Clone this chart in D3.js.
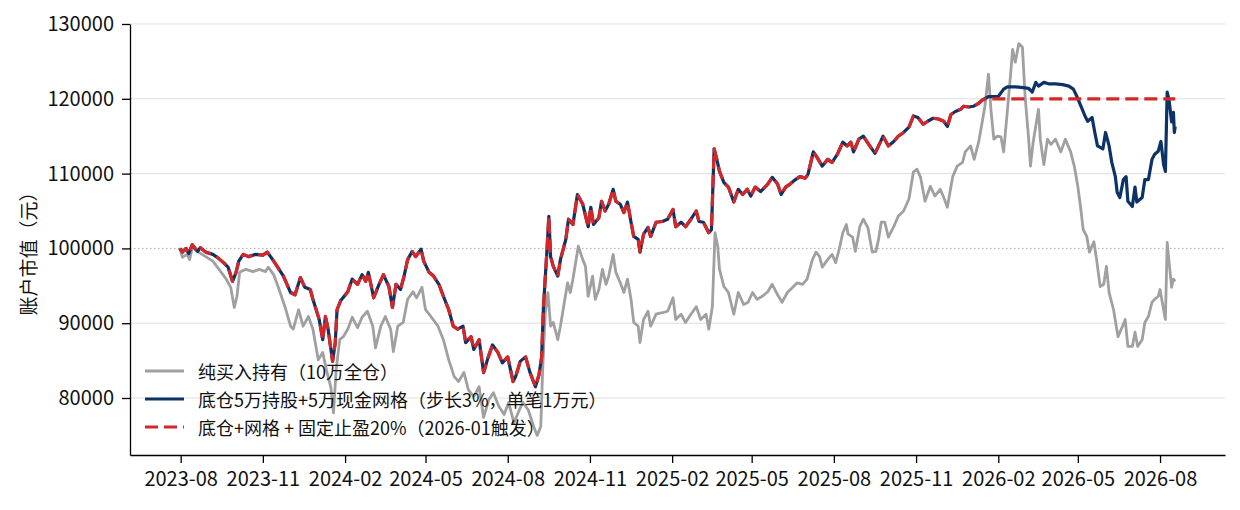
<!DOCTYPE html>
<html>
<head>
<meta charset="utf-8">
<script src="https://cdn.jsdelivr.net/npm/d3@7"></script>
<style>
body{margin:0;background:#fff}
svg text{font-family:"Noto Sans CJK SC","Noto Sans",sans-serif;fill:#111}
</style>
</head>
<body>
<svg id="chart" width="1240" height="510"></svg>
<script>
// 纯买入持有（10万全仓）
var holdSeries = [
["2023-07-31",100000],["2023-08-03",98800],["2023-08-08",99200],["2023-08-11",98500],["2023-08-14",100100],
["2023-08-21",99500],["2023-08-29",98900],["2023-09-06",98300],["2023-09-13",97200],["2023-09-21",95900],
["2023-09-26",94800],["2023-09-30",92100],["2023-10-03",93600],["2023-10-06",96800],["2023-10-13",97200],
["2023-10-21",96900],["2023-10-28",97200],["2023-11-04",96900],["2023-11-07",97500],["2023-11-13",96500],
["2023-11-18",94900],["2023-11-26",92100],["2023-12-02",89600],["2023-12-05",89200],["2023-12-11",91800],
["2023-12-16",89600],["2023-12-22",90900],["2023-12-27",89200],["2024-01-02",85100],["2024-01-07",86100],
["2024-01-11",83800],["2024-01-16",81500],["2024-01-19",78000],["2024-01-22",83800],["2024-01-26",87800],
["2024-01-30",88200],["2024-02-04",89200],["2024-02-09",90800],["2024-02-15",89400],["2024-02-20",90800],
["2024-02-26",91600],["2024-03-03",89600],["2024-03-06",86700],["2024-03-12",89600],["2024-03-17",90900],
["2024-03-23",89200],["2024-03-26",86200],["2024-03-31",89600],["2024-04-06",90100],["2024-04-11",93200],
["2024-04-17",94200],["2024-04-21",93400],["2024-04-27",94800],["2024-05-01",91800],["2024-05-07",90900],
["2024-05-15",89600],["2024-05-21",87800],["2024-05-27",85100],["2024-06-02",82900],["2024-06-07",82200],
["2024-06-13",83400],["2024-06-18",81100],["2024-06-24",80200],["2024-06-30",81500],["2024-07-05",77400],
["2024-07-11",79800],["2024-07-16",80700],["2024-07-22",78900],["2024-07-28",77800],["2024-08-02",79400],
["2024-08-08",76700],["2024-08-14",78400],["2024-08-18",79400],["2024-08-24",78400],["2024-08-30",76200],
["2024-09-03",75000],["2024-09-07",76200],["2024-09-09",83400],["2024-09-12",91400],["2024-09-15",94100],
["2024-09-18",89600],["2024-09-21",90100],["2024-09-26",87800],["2024-09-29",89600],["2024-10-02",91800],
["2024-10-07",95400],["2024-10-10",94100],["2024-10-13",95900],["2024-10-19",100300],["2024-10-24",98500],
["2024-10-27",97600],["2024-10-30",93600],["2024-11-04",96300],["2024-11-07",93200],["2024-11-11",94500],
["2024-11-15",97200],["2024-11-19",95200],["2024-11-22",96300],["2024-11-27",99200],["2024-11-30",96800],
["2024-12-05",95400],["2024-12-09",94100],["2024-12-13",95900],["2024-12-17",93200],["2024-12-20",90100],
["2024-12-25",89600],["2024-12-27",87400],["2024-12-31",90500],["2025-01-05",91600],["2025-01-08",89600],
["2025-01-14",91200],["2025-01-21",91400],["2025-01-27",91600],["2025-02-02",93400],["2025-02-05",90500],
["2025-02-11",91200],["2025-02-16",90100],["2025-02-22",91200],["2025-02-28",92200],["2025-03-05",90500],
["2025-03-11",91200],["2025-03-14",89200],["2025-03-18",92200],["2025-03-21",102100],["2025-03-24",100300],
["2025-03-26",97200],["2025-03-31",94900],["2025-04-05",94100],["2025-04-11",91200],["2025-04-16",94100],
["2025-04-22",92500],["2025-04-27",92800],["2025-05-02",94100],["2025-05-07",93200],["2025-05-13",93600],
["2025-05-19",94200],["2025-05-24",95200],["2025-05-30",93800],["2025-06-04",92800],["2025-06-10",94100],
["2025-06-16",94800],["2025-06-21",95400],["2025-06-27",95200],["2025-07-02",95900],["2025-07-08",98500],
["2025-07-12",99500],["2025-07-16",98900],["2025-07-19",97500],["2025-07-25",98500],["2025-07-30",99200],
["2025-08-03",98100],["2025-08-07",99900],["2025-08-11",102100],["2025-08-15",103200],["2025-08-17",101900],
["2025-08-22",101500],["2025-08-25",99600],["2025-08-30",102900],["2025-09-03",103900],["2025-09-08",102800],
["2025-09-13",99500],["2025-09-17",99600],["2025-09-20",101200],["2025-09-23",103500],["2025-09-27",103500],
["2025-10-01",101500],["2025-10-07",102900],["2025-10-12",104300],["2025-10-18",105000],["2025-10-24",106600],
["2025-10-29",110200],["2025-11-02",110600],["2025-11-06",109500],["2025-11-11",106300],["2025-11-17",108300],
["2025-11-22",107000],["2025-11-28",107900],["2025-12-02",106800],["2025-12-06",105500],["2025-12-12",109600],
["2025-12-17",111000],["2025-12-23",111500],["2025-12-26",112900],["2026-01-01",113700],["2026-01-05",111900],
["2026-01-10",114200],["2026-01-14",116900],["2026-01-17",119000],["2026-01-21",123300],["2026-01-24",118200],
["2026-01-27",114600],["2026-01-31",115000],["2026-02-04",114900],["2026-02-07",112900],["2026-02-11",118200],
["2026-02-15",123600],["2026-02-17",126600],["2026-02-20",124900],["2026-02-24",127380],["2026-02-28",126900],
["2026-03-03",120300],["2026-03-07",114600],["2026-03-09",111000],["2026-03-12",114200],["2026-03-18",118600],
["2026-03-20",114600],["2026-03-24",111200],["2026-03-28",114600],["2026-04-01",113900],["2026-04-06",114600],
["2026-04-12",112900],["2026-04-17",114600],["2026-04-23",112900],["2026-04-27",111000],["2026-05-01",108300],
["2026-05-04",105600],["2026-05-07",102500],["2026-05-11",101600],["2026-05-14",99500],["2026-05-19",100900],
["2026-05-22",98500],["2026-05-26",94900],["2026-05-30",95200],["2026-06-02",97600],["2026-06-05",94100],
["2026-06-10",91800],["2026-06-13",89600],["2026-06-15",88200],["2026-06-20",89600],["2026-06-23",90500],
["2026-06-26",86900],["2026-07-01",86900],["2026-07-04",88800],["2026-07-07",86900],["2026-07-12",87800],
["2026-07-15",90100],["2026-07-19",90900],["2026-07-23",92800],["2026-07-26",93200],["2026-07-30",93600],
["2026-08-01",94500],["2026-08-05",91800],["2026-08-07",90500],["2026-08-09",100800],["2026-08-11",98300],
["2026-08-14",94800],["2026-08-16",95900],["2026-08-18",95600]
];

// 底仓5万持股+5万现金网格
var gridSeries = [
["2023-07-31",100000],["2023-08-03",99500],["2023-08-07",100000],["2023-08-10",99300],["2023-08-14",100500],
["2023-08-20",99600],["2023-08-23",100100],["2023-08-29",99500],["2023-09-06",99200],["2023-09-11",98800],
["2023-09-18",98100],["2023-09-23",97500],["2023-09-28",95600],["2023-10-02",96800],["2023-10-05",98300],
["2023-10-10",99200],["2023-10-16",98900],["2023-10-24",99200],["2023-11-01",99100],["2023-11-06",99500],
["2023-11-12",98500],["2023-11-17",97600],["2023-11-24",96300],["2023-12-02",94100],["2023-12-07",93800],
["2023-12-13",96100],["2023-12-18",94800],["2023-12-24",94500],["2023-12-27",93200],["2024-01-03",90500],
["2024-01-07",87800],["2024-01-10",90900],["2024-01-13",89200],["2024-01-18",84900],["2024-01-21",87400],
["2024-01-23",91800],["2024-01-27",93000],["2024-02-04",94200],["2024-02-09",95900],["2024-02-15",95200],
["2024-02-20",96500],["2024-02-24",95600],["2024-02-27",96800],["2024-03-04",93400],["2024-03-10",95200],
["2024-03-15",96500],["2024-03-21",94900],["2024-03-25",92100],["2024-03-29",95200],["2024-04-03",94500],
["2024-04-07",96300],["2024-04-11",98500],["2024-04-16",99600],["2024-04-20",98900],["2024-04-26",99900],
["2024-04-29",98300],["2024-05-05",96800],["2024-05-10",96300],["2024-05-16",95200],["2024-05-21",93600],
["2024-05-27",91800],["2024-06-01",89600],["2024-06-06",89200],["2024-06-12",89600],["2024-06-15",87400],
["2024-06-21",88200],["2024-06-24",86500],["2024-06-30",87800],["2024-07-05",83400],["2024-07-10",85400],
["2024-07-15",87100],["2024-07-21",86100],["2024-07-26",84700],["2024-08-01",85500],["2024-08-07",82200],
["2024-08-10",82900],["2024-08-15",84900],["2024-08-21",85500],["2024-08-26",83400],["2024-09-01",81500],
["2024-09-05",83100],["2024-09-08",85500],["2024-09-10",92200],["2024-09-14",99900],["2024-09-16",104300],
["2024-09-18",98900],["2024-09-21",97600],["2024-09-26",96300],["2024-09-29",98500],["2024-10-05",101200],
["2024-10-08",103900],["2024-10-13",103200],["2024-10-18",107200],["2024-10-24",105900],["2024-10-30",102900],
["2024-11-02",105500],["2024-11-05",103200],["2024-11-11",104100],["2024-11-14",106300],["2024-11-18",105000],
["2024-11-22",105900],["2024-11-27",107900],["2024-11-30",106300],["2024-12-05",105900],["2024-12-09",104800],
["2024-12-13",106200],["2024-12-17",103500],["2024-12-20",101600],["2024-12-25",101200],["2024-12-27",99500],
["2024-12-31",101900],["2025-01-05",102800],["2025-01-08",101600],["2025-01-14",103500],["2025-01-21",103600],
["2025-01-27",103900],["2025-02-02",105200],["2025-02-05",102900],["2025-02-11",103500],["2025-02-16",102900],
["2025-02-22",103900],["2025-02-28",105000],["2025-03-03",103600],["2025-03-08",103500],["2025-03-14",102100],
["2025-03-17",102500],["2025-03-20",113300],["2025-03-23",111900],["2025-03-26",110300],["2025-03-31",108800],
["2025-04-05",108200],["2025-04-11",106200],["2025-04-16",107900],["2025-04-21",107200],["2025-04-26",107900],
["2025-04-30",107000],["2025-05-05",108200],["2025-05-11",107600],["2025-05-19",108600],["2025-05-24",109500],
["2025-05-30",108600],["2025-06-03",107200],["2025-06-08",108200],["2025-06-13",108600],["2025-06-19",109200],
["2025-06-24",109600],["2025-06-30",109400],["2025-07-03",109900],["2025-07-09",112900],["2025-07-13",112200],
["2025-07-19",111000],["2025-07-25",111900],["2025-07-30",111500],["2025-08-05",112600],["2025-08-11",114200],
["2025-08-16",113700],["2025-08-20",114200],["2025-08-23",112900],["2025-08-29",114600],["2025-09-03",115000],
["2025-09-09",113900],["2025-09-16",112700],["2025-09-22",114200],["2025-09-25",115000],["2025-10-01",113700],
["2025-10-07",114300],["2025-10-12",115000],["2025-10-18",115500],["2025-10-24",116200],["2025-10-29",117700],
["2025-11-03",117500],["2025-11-09",116600],["2025-11-14",117000],["2025-11-20",117400],["2025-11-26",117300],
["2025-12-02",117000],["2025-12-06",116300],["2025-12-10",117900],["2025-12-15",118300],["2025-12-21",118600],
["2025-12-24",119000],["2025-12-30",118900],["2026-01-04",119000],["2026-01-10",119400],["2026-01-15",119900],
["2026-01-21",120300],["2026-01-27",120300],["2026-02-01",120300],["2026-02-07",121300],["2026-02-11",121600],
["2026-02-20",121600],["2026-03-01",121500],["2026-03-07",121400],["2026-03-11",120900],["2026-03-15",122200],
["2026-03-18",121700],["2026-03-24",122200],["2026-03-29",122000],["2026-04-06",122000],["2026-04-14",121900],
["2026-04-21",121700],["2026-04-26",121300],["2026-04-30",120300],["2026-05-06",118600],["2026-05-09",117700],
["2026-05-12",117000],["2026-05-17",117500],["2026-05-20",115500],["2026-05-23",113700],["2026-05-29",113300],
["2026-06-01",115500],["2026-06-05",113700],["2026-06-08",111500],["2026-06-12",109600],["2026-06-14",107500],
["2026-06-17",106800],["2026-06-21",109200],["2026-06-24",109600],["2026-06-26",106300],["2026-07-01",105600],
["2026-07-04",108200],["2026-07-06",106200],["2026-07-12",106800],["2026-07-15",109200],["2026-07-19",109200],
["2026-07-23",111900],["2026-07-26",112600],["2026-07-30",113000],["2026-08-02",114300],["2026-08-05",111200],
["2026-08-07",110300],["2026-08-09",120900],["2026-08-11",119900],["2026-08-14",116900],["2026-08-16",118200],
["2026-08-17",115500],["2026-08-18",116300]
];

// 固定止盈：触发后持有现金不变
var stopDate = "2026-01-18";
var stopValue = 120000;
var endDate = "2026-08-18";

var yTicks = [80000, 90000, 100000, 110000, 120000, 130000];
var xTickLabels = ["2023-08","2023-11","2024-02","2024-05","2024-08","2024-11","2025-02",
	"2025-05","2025-08","2025-11","2026-02","2026-05","2026-08"];
var baseValue = 100000;

var legendNames = [
	"纯买入持有（10万全仓）",
	"底仓5万持股+5万现金网格（步长3%，单笔1万元）",
	"底仓+网格 + 固定止盈20%（2026-01触发）"
];

var parse = d3.timeParse("%Y-%m-%d");
var parseMonth = d3.timeParse("%Y-%m");

var hold = holdSeries.map(function(d){return {t:parse(d[0]),v:d[1]}});
var grid = gridSeries.map(function(d){return {t:parse(d[0]),v:d[1]}});
var stop = grid.filter(function(d){return d.t < parse(stopDate)})
	.concat([{t:parse(stopDate),v:stopValue},{t:parse(endDate),v:stopValue}]);

var L = 130, R = 1225, T = 24, B = 455;

// 5% 边距
var allPts = hold.concat(grid);
var vExt = d3.extent(allPts, function(d){return d.v});
var tExt = d3.extent(allPts, function(d){return d.t});
var vPad = (vExt[1]-vExt[0])*0.05, tPad = (tExt[1]-tExt[0])*0.05;

var x = d3.scaleTime()
	.domain([new Date(+tExt[0]-tPad), new Date(+tExt[1]+tPad)])
	.range([L, R]);
var y = d3.scaleLinear()
	.domain([vExt[0]-vPad, vExt[1]+vPad])
	.range([B, T]);

var svg = d3.select("#chart");

// 网格线
svg.append("g")
	.attr("class","grid")
	.selectAll("line")
	.data(yTicks.filter(function(d){return d != baseValue}))
	.enter()
	.append("line")
	.attr("x1",L).attr("x2",R)
	.attr("y1",function(d){return y(d)})
	.attr("y2",function(d){return y(d)})
	.attr("stroke","#dedede")
	.attr("stroke-width",1);

// 10万基准线
svg.append("line")
	.attr("x1",L).attr("x2",R)
	.attr("y1",y(baseValue)).attr("y2",y(baseValue))
	.attr("stroke","#aaaaaa")
	.attr("stroke-width",1)
	.attr("stroke-dasharray","1.5,2.5");

var line = d3.line()
	.x(function(d){return x(d.t)})
	.y(function(d){return y(d.v)});

var styles = [
	{data:hold, color:"#a0a0a0", width:2.8, dash:null},
	{data:grid, color:"#0b3366", width:3.2, dash:null},
	{data:stop, color:"#d62728", width:3.2, dash:"13,6"}
];

svg.append("g")
	.attr("class","lines")
	.selectAll("path")
	.data(styles)
	.enter()
	.append("path")
	.attr("d",function(d){return line(d.data)})
	.attr("fill","none")
	.attr("stroke",function(d){return d.color})
	.attr("stroke-width",function(d){return d.width})
	.attr("stroke-linejoin","round")
	.attr("stroke-dasharray",function(d){return d.dash});

// 坐标轴
var yAxis = svg.append("g")
	.attr("transform","translate("+L+",0)")
	.call(d3.axisLeft(y).tickValues(yTicks).tickFormat(d3.format("d")).tickSize(8).tickSizeOuter(0).tickPadding(8));
var xAxis = svg.append("g")
	.attr("transform","translate(0,"+B+")")
	.call(d3.axisBottom(x).tickValues(xTickLabels.map(parseMonth)).tickFormat(d3.timeFormat("%Y-%m")).tickSize(8).tickSizeOuter(0).tickPadding(9));

[yAxis, xAxis].forEach(function(g){
	g.selectAll("path,line").attr("stroke","#000").attr("stroke-width",1.3);
	g.selectAll("text").attr("font-size",20).attr("fill","#111")
		.style("font-family",'"Noto Sans CJK SC","Noto Sans",sans-serif');
});

svg.append("text")
	.attr("transform","translate(27,249) rotate(-90)")
	.attr("text-anchor","middle")
	.attr("dominant-baseline","central")
	.attr("font-size",19)
	.text("账户市值（元）");

// 图例
var legend = svg.append("g")
	.attr("class","legend")
	.selectAll("g")
	.data(styles)
	.enter()
	.append("g")
	.attr("transform",function(d,i){return "translate(145,"+(371+i*28)+")"});

legend.append("line")
	.attr("x1",0).attr("x2",39).attr("y1",0).attr("y2",0)
	.attr("stroke",function(d){return d.color})
	.attr("stroke-width",function(d){return d.width})
	.attr("stroke-dasharray",function(d){return d.dash});

legend.append("text")
	.attr("x",53)
	.attr("y",0)
	.attr("dominant-baseline","central")
	.attr("font-size",18)
	.text(function(d,i){return legendNames[i]});
</script>
</body>
</html>
